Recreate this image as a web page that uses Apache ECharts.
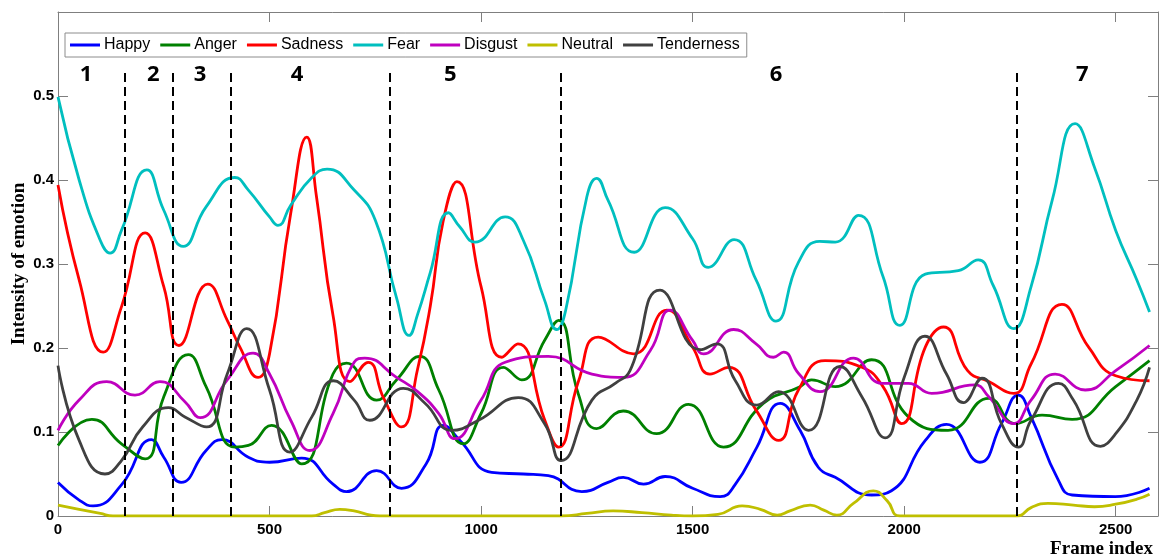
<!DOCTYPE html>
<html>
<head>
<meta charset="utf-8">
<script src="https://cdn.jsdelivr.net/npm/echarts@6/dist/echarts.min.js"></script>
<style>
html,body{margin:0;padding:0;background:#fff;}
#chart{width:1165px;height:557px;}
</style>
</head>
<body>
<div id="chart"></div>
<script>
const seriesNames = ['Happy','Anger','Sadness','Fear','Disgust','Neutral','Tenderness'];
const xTicks = [0,500,1000,1500,2000,2500];
const yTicks = [0,0.1,0.2,0.3,0.4,0.5];
const xTitle = 'Frame index';
const yTitle = 'Intensity of emotion';

const happy = [[0,0.04],[50,0.019],[83,0.012],[150,0.037],[221,0.091],[250,0.07],[291,0.04],[350,0.078],[387,0.091],[450,0.07],[500,0.064],[576,0.069],[650,0.038],[682,0.029],[753,0.054],[812,0.033],[870,0.062],[911,0.108],[950,0.09],[1025,0.052],[1100,0.05],[1159,0.048],[1238,0.029],[1300,0.04],[1336,0.046],[1384,0.038],[1435,0.047],[1500,0.033],[1565,0.023],[1600,0.037],[1652,0.082],[1707,0.134],[1754,0.102],[1797,0.058],[1837,0.046],[1923,0.025],[1970,0.03],[2050,0.09],[2100,0.109],[2179,0.064],[2230,0.11],[2270,0.144],[2300,0.118],[2365,0.042],[2397,0.025],[2499,0.023],[2580,0.033]];

const anger = [[0,0.084],[80,0.115],[150,0.086],[206,0.068],[250,0.142],[308,0.192],[350,0.154],[418,0.082],[450,0.084],[505,0.108],[576,0.062],[650,0.169],[682,0.182],[753,0.138],[800,0.162],[855,0.19],[900,0.15],[958,0.086],[1000,0.122],[1053,0.177],[1096,0.162],[1150,0.209],[1183,0.233],[1230,0.145],[1273,0.104],[1336,0.125],[1415,0.098],[1490,0.133],[1573,0.082],[1667,0.134],[1754,0.154],[1781,0.162],[1837,0.154],[1923,0.186],[2010,0.118],[2104,0.102],[2200,0.14],[2263,0.11],[2326,0.12],[2397,0.115],[2500,0.154],[2580,0.185]];

const sadness = [[0,0.394],[50,0.281],[107,0.195],[150,0.249],[206,0.337],[250,0.273],[286,0.203],[354,0.276],[400,0.233],[430,0.201],[473,0.165],[500,0.193],[550,0.36],[588,0.451],[611,0.38],[650,0.239],[690,0.16],[733,0.183],[770,0.14],[812,0.106],[850,0.175],[880,0.25],[910,0.35],[943,0.398],[1000,0.273],[1049,0.189],[1087,0.205],[1150,0.115],[1183,0.082],[1230,0.16],[1277,0.213],[1360,0.193],[1439,0.245],[1500,0.201],[1541,0.169],[1585,0.177],[1650,0.126],[1703,0.09],[1750,0.15],[1813,0.185],[1900,0.177],[1950,0.154],[1994,0.11],[2050,0.201],[2093,0.225],[2150,0.173],[2200,0.16],[2259,0.146],[2300,0.181],[2373,0.252],[2436,0.201],[2500,0.167],[2580,0.161]];

const fear = [[0,0.499],[50,0.40],[100,0.328],[123,0.313],[150,0.34],[210,0.412],[250,0.364],[296,0.321],[350,0.368],[418,0.403],[450,0.388],[500,0.356],[520,0.346],[550,0.37],[600,0.403],[636,0.413],[700,0.388],[750,0.352],[800,0.26],[830,0.215],[850,0.24],[880,0.29],[923,0.361],[950,0.344],[986,0.326],[1057,0.356],[1100,0.328],[1150,0.257],[1179,0.222],[1200,0.245],[1250,0.38],[1273,0.402],[1300,0.376],[1362,0.314],[1435,0.367],[1500,0.33],[1537,0.296],[1598,0.329],[1650,0.281],[1697,0.232],[1750,0.302],[1800,0.327],[1837,0.326],[1892,0.358],[1950,0.285],[1990,0.227],[2050,0.288],[2128,0.292],[2175,0.305],[2210,0.275],[2259,0.223],[2300,0.273],[2350,0.376],[2404,0.467],[2450,0.415],[2500,0.34],[2550,0.281],[2580,0.243]];

const disgust = [[0,0.102],[50,0.138],[115,0.16],[182,0.144],[241,0.16],[300,0.136],[336,0.117],[400,0.162],[461,0.194],[500,0.169],[550,0.114],[595,0.078],[650,0.122],[700,0.183],[725,0.188],[800,0.165],[850,0.148],[900,0.122],[938,0.092],[1000,0.138],[1057,0.183],[1159,0.19],[1262,0.169],[1336,0.165],[1400,0.197],[1447,0.245],[1500,0.209],[1526,0.193],[1597,0.222],[1650,0.205],[1691,0.189],[1715,0.195],[1750,0.17],[1801,0.148],[1880,0.188],[1947,0.158],[2010,0.158],[2065,0.146],[2167,0.156],[2200,0.142],[2259,0.11],[2300,0.138],[2357,0.169],[2428,0.15],[2500,0.173],[2580,0.203]];

const neutral = [[0,0.013],[50,0.008],[100,0.003],[130,0],[200,0],[600,0],[630,0.004],[666,0.008],[700,0.006],[740,0.001],[760,0],[1190,0],[1250,0.003],[1312,0.006],[1380,0.004],[1450,0.001],[1500,0],[1560,0.002],[1617,0.012],[1660,0.008],[1700,0.001],[1730,0.006],[1778,0.013],[1810,0.007],[1841,0.001],[1880,0.015],[1927,0.03],[1960,0.018],[1990,0],[2267,0],[2300,0.01],[2340,0.015],[2400,0.013],[2450,0.011],[2500,0.014],[2550,0.02],[2580,0.026]];

const tenderness = [[0,0.179],[50,0.09],[111,0.05],[150,0.066],[200,0.106],[261,0.129],[300,0.118],[351,0.106],[400,0.169],[446,0.223],[500,0.15],[548,0.076],[600,0.118],[651,0.161],[700,0.138],[737,0.114],[816,0.152],[868,0.134],[931,0.102],[994,0.114],[1088,0.141],[1150,0.11],[1189,0.066],[1262,0.138],[1317,0.158],[1352,0.173],[1423,0.269],[1518,0.198],[1557,0.205],[1600,0.162],[1652,0.132],[1703,0.148],[1774,0.102],[1848,0.178],[1900,0.142],[1955,0.093],[2000,0.165],[2049,0.214],[2100,0.169],[2140,0.135],[2184,0.164],[2230,0.11],[2270,0.082],[2300,0.114],[2365,0.158],[2400,0.138],[2464,0.083],[2500,0.098],[2550,0.138],[2580,0.177]];

const segmentBoundaries = [158, 272, 409, 785, 1189, 2267];
const segmentLabels = ['1','2','3','4','5','6','7'];
const segmentLabelX = [66, 225, 336, 565, 927, 1697, 2421];
const segmentLabelY = 0.525;
const boundaryTop = 0.53;

const colors = ['#0000ff','#008000','#ff0000','#00bfbf','#bf00bf','#bfbf00','#404040'];
const seriesData = [happy, anger, sadness, fear, disgust, neutral, tenderness];

const chart = echarts.init(document.getElementById('chart'), null, {renderer:'canvas'});

const axisCommon = {
  type:'value', min:0,
  axisLine:{show:true, onZero:false, lineStyle:{color:'#7f7f7f', width:1}},
  axisTick:{show:true, inside:true, length:10, lineStyle:{color:'#7f7f7f'}},
  splitLine:{show:false}
};

const lineSeries = seriesNames.map((n,i)=>({
  name:n, type:'line', data:seriesData[i], smooth:0.5, symbol:'none',
  xAxisIndex:0, yAxisIndex:0,
  lineStyle:{width:2.8, color:colors[i]}, itemStyle:{color:colors[i]},
  z:2
}));

lineSeries.push({
  name:'boundaries', type:'line', data:[], xAxisIndex:0, yAxisIndex:0,
  markLine:{
    silent:true, symbol:['none','none'], label:{show:false},
    lineStyle:{color:'#000', width:2, type:[9,5]},
    data: segmentBoundaries.map(b=>[{coord:[b,0]},{coord:[b,boundaryTop]}])
  }
});

lineSeries.push({
  name:'segments', type:'scatter', symbolSize:0, xAxisIndex:0, yAxisIndex:0,
  itemStyle:{opacity:1, color:'#000'},
  data: segmentLabels.map((t,i)=>({value:[segmentLabelX[i], segmentLabelY], name:t})),
  label:{show:true, position:'inside', formatter:p=>p.name, color:'#000', opacity:1,
    fontFamily:'"Open Sans", "Noto Sans", sans-serif', fontWeight:'bold', fontSize:22}
});

const titleFont = '"Liberation Serif", "Times New Roman", serif';

chart.setOption({
  animation:false,
  backgroundColor:'#fff',
  grid:{left:58, right:7, top:12, bottom:41, containLabel:false, outerBoundsMode:'none'},
  legend:{
    data:seriesNames, left:65, top:33, orient:'horizontal',
    icon:'rect', itemWidth:30, itemHeight:3, itemGap:10,
    padding:[4,7,4,5],
    borderColor:'#8c8c8c', borderWidth:1, backgroundColor:'#fff',
    textStyle:{fontFamily:'Arial, "Liberation Sans", sans-serif', fontSize:16, color:'#000', padding:[0,0,0,-1]}
  },
  graphic:[
    {type:'text', x:19, y:264, rotation:Math.PI/2, z:10,
      style:{text:yTitle, font:'bold 19px ' + titleFont, fill:'#000', align:'center', verticalAlign:'middle'}},
    {type:'text', x:1153, y:549, z:10,
      style:{text:xTitle, font:'bold 19px ' + titleFont, fill:'#000', align:'right', verticalAlign:'middle'}}
  ],
  xAxis:[
    Object.assign({}, axisCommon, {
      position:'bottom', max:2600, interval:500,
      axisLabel:{show:true, margin:6, color:'#000', fontFamily:'Arial, "Liberation Sans", sans-serif', fontWeight:'bold', fontSize:15,
        showMaxLabel:false, formatter:v=> xTicks.indexOf(v)>=0 ? String(v) : ''}
    }),
    Object.assign({}, axisCommon, {
      position:'top', max:2600, interval:500, axisLabel:{show:false}
    })
  ],
  yAxis:[
    Object.assign({}, axisCommon, {
      position:'left', max:0.6, interval:0.1,
      axisLabel:{show:true, margin:4, color:'#000', fontFamily:'Arial, "Liberation Sans", sans-serif', fontWeight:'bold', fontSize:15,
        formatter:v=>{ const r=Math.round(v*10)/10; return yTicks.some(t=>Math.abs(t-r)<1e-9) ? String(r) : ''; }}
    }),
    Object.assign({}, axisCommon, {
      position:'right', max:0.6, interval:0.1, axisLabel:{show:false}
    })
  ],
  series: lineSeries
});
</script>
</body>
</html>
